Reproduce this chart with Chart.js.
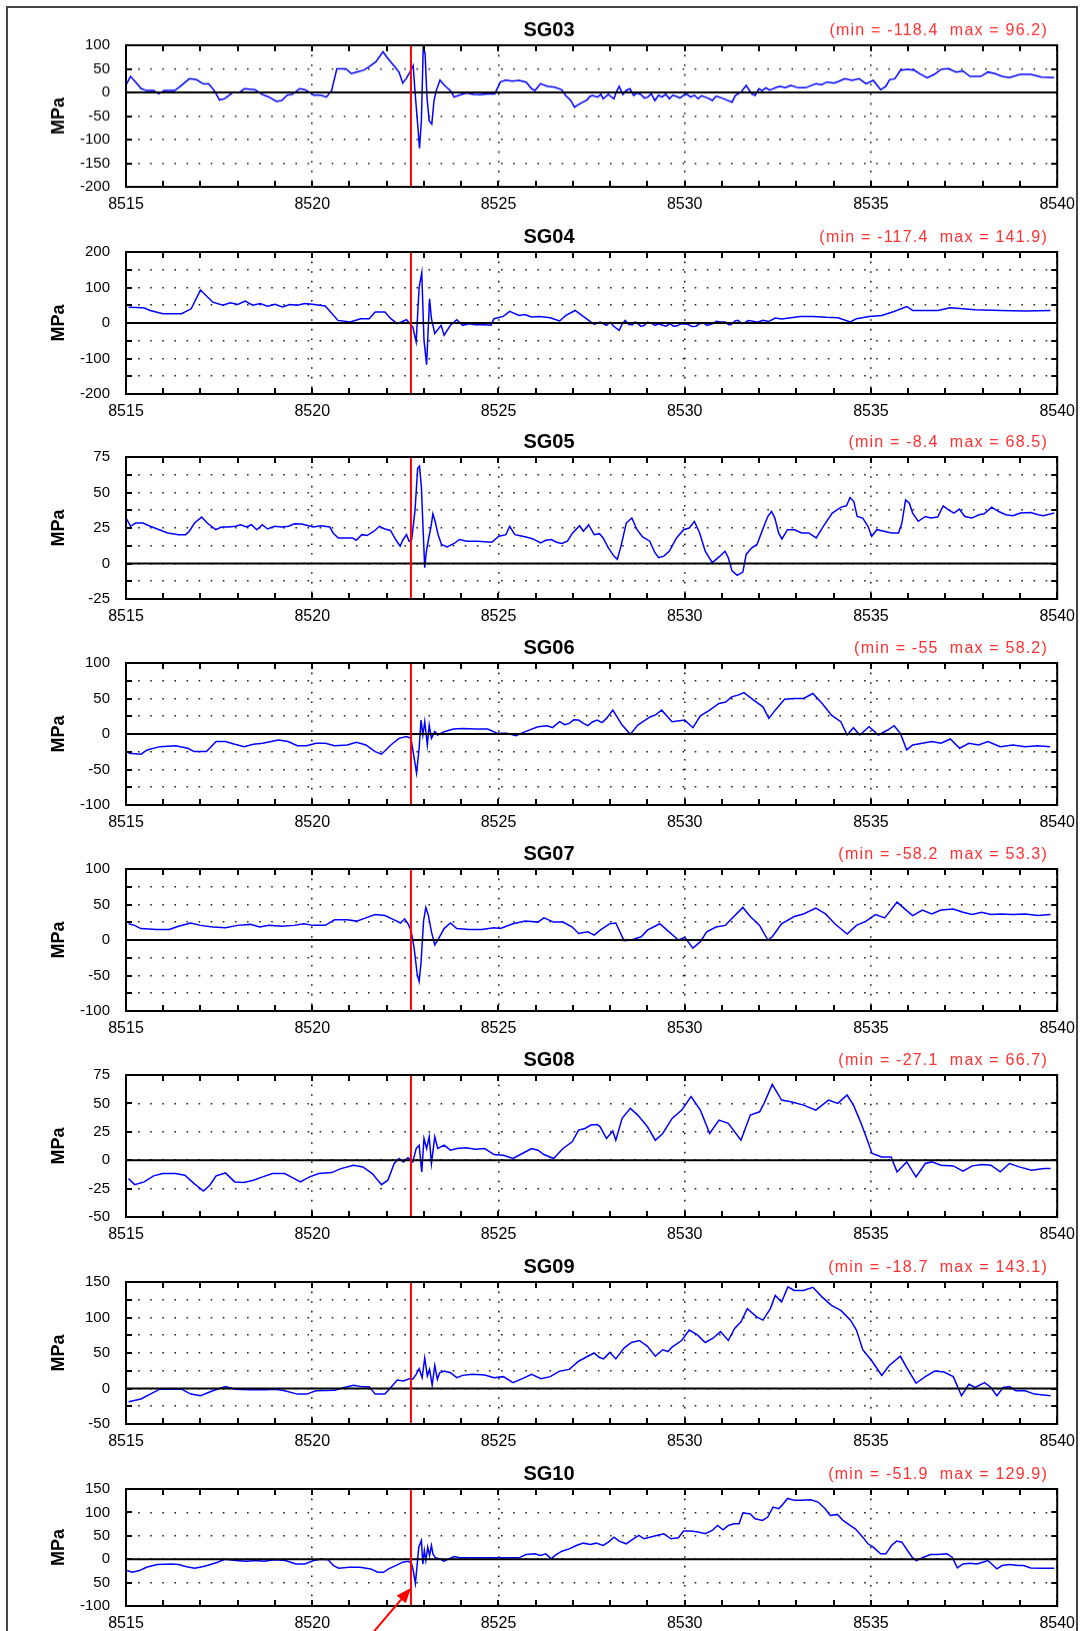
<!DOCTYPE html>
<html><head><meta charset="utf-8">
<script src="https://cdn.jsdelivr.net/npm/chart.js@4.4.1/dist/chart.umd.min.js"></script>
<style>
html,body{margin:0;padding:0;background:#fff;}
body{width:1083px;height:1631px;position:relative;overflow:hidden;}
#frame{position:absolute;left:6px;top:6px;width:1068px;height:1700px;border:2px solid #444;}
canvas{position:absolute;left:0;}
</style></head><body>
<div id="frame"></div>
<script>
// ---------------- DATA ----------------
const names = ['SG03','SG04','SG05','SG06','SG07','SG08','SG09','SG10'];
const minMaxText = [
  '(min = -118.4  max = 96.2)',
  '(min = -117.4  max = 141.9)',
  '(min = -8.4  max = 68.5)',
  '(min = -55  max = 58.2)',
  '(min = -58.2  max = 53.3)',
  '(min = -27.1  max = 66.7)',
  '(min = -18.7  max = 143.1)',
  '(min = -51.9  max = 129.9)'
];
const xMin = 8515, xMax = 8540, xStep = 5;
const xTickLabels = ['8515','8520','8525','8530','8535','8540'];
const eventTime = 8522.65;
const yMin = [-200,-200,-25,-100,-100,-50,-50,-100];
const yMax = [100,200,75,100,100,75,150,150];
const yGridStep = [50,50,12.5,25,25,25,25,50];
const yLabelStep = [50,100,25,50,50,25,50,50];
const yTickLabels = [
  ['100','50','0','-50','-100','-150','-200'],
  ['200','100','0','-100','-200'],
  ['75','50','25','0','-25'],
  ['100','50','0','-50','-100'],
  ['100','50','0','-50','-100'],
  ['75','50','25','0','-25','-50'],
  ['150','100','50','0','-50'],
  ['150','100','50','0','50','-100']
];

const SG03 = [[8515.02,18],[8515.12,34],[8515.26,22],[8515.41,8],[8515.55,4],[8515.74,4],[8515.88,-3],[8516.03,4],[8516.31,4],[8516.46,13],[8516.70,29],[8516.89,27],[8517.08,18],[8517.22,18],[8517.37,4],[8517.51,-16],[8517.65,-13],[8517.89,1],[8518.03,-1],[8518.18,8],[8518.46,6],[8518.65,-4],[8518.84,-10],[8519.04,-19],[8519.18,-17],[8519.33,-6],[8519.47,-4],[8519.66,8],[8519.80,6],[8519.95,-1],[8520.04,-6],[8520.23,-6],[8520.38,-10],[8520.52,4],[8520.66,50],[8520.90,50],[8521.05,40],[8521.19,43],[8521.38,47],[8521.52,54],[8521.71,65],[8521.90,86],[8522.0,75],[8522.19,57],[8522.33,43],[8522.43,20],[8522.52,29],[8522.62,43],[8522.71,57],[8522.76,1],[8522.83,-67],[8522.88,-118.4],[8522.93,-60],[8522.98,96.2],[8523.03,82],[8523.08,-10],[8523.14,-60],[8523.21,-67],[8523.27,-17],[8523.33,4],[8523.43,26],[8523.55,15],[8523.71,4],[8523.81,-10],[8523.95,-6],[8524.14,-1],[8524.33,-4],[8524.52,-5],[8524.71,-3],[8524.90,-3],[8525.05,22],[8525.19,26],[8525.38,24],[8525.55,25.5],[8525.74,22],[8525.89,7.8],[8525.98,4.3],[8526.13,18.4],[8526.32,12.8],[8526.51,11.3],[8526.70,5.7],[8526.80,-6.4],[8526.94,-17],[8527.04,-31.2],[8527.18,-24],[8527.38,-15.6],[8527.45,-9],[8527.52,-6.4],[8527.66,-9.9],[8527.75,-4],[8527.81,-13.5],[8527.95,-4.3],[8528.02,-9],[8528.10,-13.5],[8528.17,2],[8528.24,12.8],[8528.34,-4.3],[8528.43,4.3],[8528.53,7.8],[8528.63,-6.4],[8528.72,-1],[8528.82,-4.3],[8528.92,-12],[8529.01,-9.9],[8529.10,-3],[8529.20,-17],[8529.30,-6],[8529.39,-9.9],[8529.49,-4],[8529.59,-13.5],[8529.68,-6],[8529.78,-8.5],[8529.87,-12],[8529.97,-6.4],[8530.06,-4],[8530.16,-9.9],[8530.26,-6],[8530.36,-13.5],[8530.45,-7],[8530.55,-9.9],[8530.65,-13],[8530.74,-17],[8530.84,-8],[8530.93,-9.9],[8531.03,-13],[8531.12,-15.6],[8531.27,-20.6],[8531.36,-6.4],[8531.51,0.7],[8531.65,14.9],[8531.80,-2.8],[8531.89,-6.4],[8531.99,7.8],[8532.08,4],[8532.18,9.9],[8532.28,5],[8532.37,7.8],[8532.47,11],[8532.57,12.8],[8532.70,10],[8532.85,14.9],[8533.05,9.9],[8533.24,9.9],[8533.38,14],[8533.53,18.4],[8533.67,16],[8533.82,22],[8534.01,19.9],[8534.15,24],[8534.30,29],[8534.49,25.5],[8534.68,29],[8534.87,18.4],[8535.06,25.5],[8535.26,5.7],[8535.40,12.8],[8535.50,27],[8535.64,29],[8535.79,46.8],[8535.98,49],[8536.17,46.8],[8536.31,39.7],[8536.51,31.2],[8536.70,38.3],[8536.89,49],[8537.08,50.4],[8537.28,43.3],[8537.47,45.4],[8537.66,34],[8537.95,34],[8538.14,43.3],[8538.33,39.7],[8538.52,34],[8538.72,31.2],[8539.0,38.3],[8539.29,38.3],[8539.58,32.6],[8539.92,31.2]];

const SG04 = [[8515.07,44.7],[8515.3,44],[8515.49,42],[8515.65,35.3],[8515.99,26],[8516.49,26],[8516.75,40],[8517.0,93],[8517.33,58.6],[8517.6,50],[8517.8,57],[8518.0,52],[8518.2,62],[8518.4,50],[8518.6,55],[8518.8,47],[8519.0,53],[8519.2,45],[8519.4,52],[8519.6,50],[8519.8,55],[8520.0,53],[8520.2,50],[8520.35,48],[8520.69,7.4],[8521.02,2.8],[8521.3,12],[8521.53,12.1],[8521.69,30.7],[8521.95,30.7],[8522.11,12.1],[8522.28,-1.9],[8522.53,9.3],[8522.70,-11.2],[8522.79,-53],[8522.87,100.5],[8522.94,141.9],[8523.0,-48.4],[8523.07,-117.4],[8523.15,67.9],[8523.2,12.1],[8523.29,-29.8],[8523.46,-6.5],[8523.54,-34.4],[8523.71,-6.5],[8523.88,9.3],[8524.04,-6.5],[8524.2,-1.9],[8524.38,-4.7],[8524.6,-4.7],[8524.8,-6.5],[8524.88,12.1],[8525.13,18.6],[8525.3,32.6],[8525.55,21.4],[8525.7,24],[8525.89,16.7],[8526.1,18],[8526.39,14.9],[8526.64,5.6],[8526.81,21.4],[8527.06,35.3],[8527.32,14.9],[8527.57,-3.7],[8527.73,2.8],[8527.9,-6.5],[8528.0,2],[8528.1,-10],[8528.24,-20.5],[8528.32,-3],[8528.4,7.4],[8528.5,-4],[8528.6,-5],[8528.67,3],[8528.74,-1.9],[8528.82,-9],[8528.9,-8],[8529.0,2],[8529.1,0],[8529.2,-7],[8529.3,-2],[8529.41,-6.5],[8529.5,-9],[8529.6,-2],[8529.7,-9],[8529.8,-8],[8529.9,-2],[8530.08,-3.7],[8530.2,-10],[8530.3,-9],[8530.4,-2],[8530.5,0],[8530.6,-7],[8530.76,-1.9],[8530.85,5],[8530.95,3],[8531.09,2.8],[8531.18,-5],[8531.25,-4],[8531.35,6],[8531.43,7.4],[8531.52,-1],[8531.6,0],[8531.7,7],[8531.8,6],[8531.95,2],[8532.1,7.4],[8532.25,4],[8532.43,14],[8532.6,11],[8532.8,14],[8533.1,18],[8533.44,18.6],[8533.8,16],[8534.11,14.9],[8534.45,2.8],[8534.61,12.1],[8534.95,18.6],[8535.29,21.4],[8535.62,32.6],[8535.96,46.5],[8536.12,35.3],[8536.8,35.3],[8537.13,42.8],[8537.8,37.2],[8538.47,35.3],[8539.14,33.5],[8539.82,35.3]];

const SG05 = [[8515.02,31.3],[8515.12,26.2],[8515.26,28.5],[8515.45,28.5],[8515.65,26.2],[8515.84,24.3],[8516.12,21.5],[8516.41,20.3],[8516.60,20.3],[8516.70,22.7],[8516.84,28.5],[8517.03,32.7],[8517.18,28.5],[8517.41,23.8],[8517.56,25.7],[8517.75,25.7],[8517.94,26.2],[8518.08,27.3],[8518.23,25.7],[8518.37,27.3],[8518.51,23.8],[8518.66,27.3],[8518.80,24.3],[8518.99,26.2],[8519.18,25.7],[8519.37,26.2],[8519.52,28],[8519.71,27.8],[8519.90,26.6],[8520.04,25.7],[8520.23,26.6],[8520.47,25.7],[8520.56,21.5],[8520.70,18],[8520.89,18],[8521.08,18],[8521.18,16.4],[8521.33,20.3],[8521.47,19.7],[8521.66,22.7],[8521.80,26.2],[8521.95,24.3],[8522.10,23.3],[8522.24,16.9],[8522.36,12.2],[8522.43,16.4],[8522.53,20.3],[8522.60,15.7],[8522.67,16.9],[8522.76,37.8],[8522.83,66.9],[8522.88,68.5],[8522.93,54],[8522.98,21.5],[8523.02,-2.9],[8523.06,7.6],[8523.12,16.9],[8523.19,26.2],[8523.24,35],[8523.30,29.7],[8523.38,20.3],[8523.47,13.4],[8523.62,11.7],[8523.81,14.1],[8523.95,16.9],[8524.15,15.7],[8524.44,15.7],[8524.82,15],[8525.01,19.2],[8525.20,20.3],[8525.30,26.2],[8525.44,20.3],[8525.55,19.7],[8525.74,18.7],[8525.93,17.3],[8526.13,14.5],[8526.27,16.4],[8526.42,16.9],[8526.56,15],[8526.70,14.1],[8526.85,15.7],[8526.99,21.5],[8527.18,26.6],[8527.28,22.7],[8527.42,27.3],[8527.57,20.3],[8527.71,21],[8527.81,18],[8527.95,11],[8528.10,5.2],[8528.19,2.9],[8528.29,12.2],[8528.43,28.5],[8528.58,32],[8528.72,23.8],[8528.87,18.7],[8529.06,15.7],[8529.20,7.6],[8529.30,4.1],[8529.44,5.2],[8529.59,8.7],[8529.78,18],[8529.97,23.8],[8530.12,25],[8530.26,29.7],[8530.40,21.5],[8530.55,8.7],[8530.74,0.6],[8530.93,4.8],[8531.08,8.7],[8531.17,4.1],[8531.27,-5.2],[8531.41,-8.4],[8531.56,-6],[8531.65,6.4],[8531.80,11],[8531.94,13.4],[8532.09,23.8],[8532.23,33.1],[8532.33,36.6],[8532.42,32],[8532.52,21.5],[8532.61,17.3],[8532.76,23.8],[8532.95,23.8],[8533.14,21.5],[8533.33,21.5],[8533.53,18],[8533.72,26.2],[8533.96,35.5],[8534.20,39.7],[8534.34,40.6],[8534.44,46.4],[8534.54,43.6],[8534.63,33.1],[8534.78,32],[8534.92,26.2],[8535.02,19.2],[8535.16,23.8],[8535.35,22.7],[8535.55,21.5],[8535.74,21.5],[8535.83,28.5],[8535.93,44.8],[8536.03,42.4],[8536.12,35.5],[8536.27,29.7],[8536.46,33.1],[8536.60,32],[8536.79,32.7],[8536.94,40.6],[8537.08,37.8],[8537.23,35.5],[8537.37,38.3],[8537.52,33.1],[8537.71,32],[8537.90,34.3],[8538.04,35],[8538.24,39.7],[8538.43,36.6],[8538.62,34.3],[8538.81,33.6],[8539.01,35.5],[8539.29,35.9],[8539.49,34.3],[8539.63,33.6],[8539.92,35.5]];

const SG06 = [[8515.07,-27.1],[8515.40,-28.5],[8515.57,-22.4],[8515.91,-17.8],[8516.33,-16.4],[8516.66,-20.1],[8516.83,-24.8],[8517.16,-24.8],[8517.42,-10.7],[8517.67,-10.7],[8517.92,-14.5],[8518.17,-17.8],[8518.42,-14.5],[8518.67,-13.1],[8519.09,-8.4],[8519.35,-10.7],[8519.60,-16.4],[8519.85,-16.4],[8520.10,-13.1],[8520.35,-13.1],[8520.60,-16.4],[8520.94,-15.4],[8521.19,-11.7],[8521.44,-15.4],[8521.69,-24.8],[8521.86,-28.5],[8522.11,-15.4],[8522.33,-6.1],[8522.53,-3.7],[8522.65,-6.1],[8522.73,-31.8],[8522.80,-55],[8522.87,-20.1],[8522.92,19.6],[8522.97,-1.4],[8523.02,17.3],[8523.09,-15.4],[8523.14,12.6],[8523.20,-6.1],[8523.29,3.3],[8523.37,-1.4],[8523.54,3.3],[8523.79,7],[8524.04,7.9],[8524.38,7],[8524.71,7],[8524.97,0.9],[8525.22,0.9],[8525.47,-2.3],[8525.72,3.3],[8526.06,10.3],[8526.31,11.7],[8526.45,9],[8526.64,17.3],[8526.78,13],[8526.90,15],[8527.02,20],[8527.15,19.6],[8527.28,15],[8527.40,11.7],[8527.52,17],[8527.65,19.6],[8527.78,16],[8527.90,22],[8528.07,33.6],[8528.32,12.6],[8528.54,-0.5],[8528.74,12.6],[8529.08,24.3],[8529.22,27],[8529.38,33.6],[8529.66,17.3],[8530.0,19.6],[8530.22,8.9],[8530.42,25.7],[8530.67,33.6],[8530.92,43],[8531.10,45],[8531.26,52.3],[8531.43,54.7],[8531.59,58.2],[8531.85,47.7],[8532.10,38.3],[8532.26,22],[8532.43,33.6],[8532.68,49],[8532.94,50],[8533.19,50],[8533.44,57],[8533.69,43],[8533.94,26.6],[8534.19,17.3],[8534.36,-1.4],[8534.53,8.9],[8534.70,-1.4],[8534.95,10.3],[8535.20,-1.4],[8535.45,5.6],[8535.62,11.7],[8535.79,0.9],[8535.96,-22.4],[8536.12,-15.4],[8536.38,-13.1],[8536.63,-10.7],[8536.88,-13.1],[8537.13,-7],[8537.38,-20.1],[8537.63,-13.1],[8537.89,-15.4],[8538.14,-10.7],[8538.47,-17.8],[8538.81,-15.4],[8539.14,-17.8],[8539.48,-16.4],[8539.81,-17.8]];

const SG07 = [[8515.07,22.9],[8515.23,20.6],[8515.40,16.1],[8515.82,14.7],[8516.16,14.7],[8516.41,19.3],[8516.74,23.9],[8517.0,20.6],[8517.33,18.3],[8517.67,17.4],[8518.0,20.6],[8518.34,22],[8518.59,18.3],[8518.84,20.6],[8519.18,19.3],[8519.51,20.6],[8519.77,22.9],[8520.02,20.6],[8520.35,20.6],[8520.60,28.4],[8520.94,28.4],[8521.19,26.6],[8521.44,31.2],[8521.69,35.8],[8521.95,34.4],[8522.20,28.4],[8522.37,23.9],[8522.48,29.8],[8522.57,22.9],[8522.65,13.8],[8522.73,-9.2],[8522.82,-48.6],[8522.87,-58.2],[8522.92,-32.1],[8522.99,27.5],[8523.05,45.9],[8523.12,34.4],[8523.20,11.5],[8523.29,-6.9],[8523.37,0],[8523.54,16.1],[8523.71,23.9],[8523.88,16.1],[8524.21,14.7],[8524.55,14.7],[8524.88,17.4],[8525.05,16.1],[8525.39,22.9],[8525.72,26.6],[8526.06,25.2],[8526.22,31.2],[8526.48,25.2],[8526.73,25.2],[8526.98,18.3],[8527.15,9.2],[8527.40,11.5],[8527.57,6.9],[8527.73,13.8],[8527.99,22.9],[8528.15,23.9],[8528.37,-0.9],[8528.57,0],[8528.83,4.6],[8529.0,13.8],[8529.33,22.9],[8529.58,11.5],[8529.83,0],[8530.0,3.7],[8530.22,-11.5],[8530.42,-2.3],[8530.59,11.5],[8530.84,18.3],[8531.09,20.6],[8531.26,29.8],[8531.56,45.9],[8531.76,33],[8532.01,20.6],[8532.23,0],[8532.35,4.6],[8532.60,22.9],[8532.94,33],[8533.19,36.7],[8533.52,45],[8533.78,36.7],[8534.03,22.9],[8534.36,8.3],[8534.61,20.6],[8534.87,26.6],[8535.12,35.8],[8535.37,31.2],[8535.70,53.3],[8535.96,41.3],[8536.12,34.4],[8536.38,42.2],[8536.63,36.7],[8536.88,42.2],[8537.21,43.6],[8537.47,39],[8537.72,35.8],[8537.97,39],[8538.22,35.8],[8538.47,36.7],[8538.81,35.8],[8539.14,36.7],[8539.48,34.4],[8539.82,35.8]];

const SG08 = [[8515.07,-16.2],[8515.23,-21.5],[8515.49,-19.1],[8515.74,-13.8],[8515.99,-11.8],[8516.33,-11.8],[8516.58,-13.2],[8516.83,-20.6],[8517.08,-27.1],[8517.25,-22],[8517.42,-13.8],[8517.67,-11.2],[8517.92,-19.1],[8518.17,-19.7],[8518.42,-17.6],[8518.67,-14.7],[8518.93,-11.8],[8519.26,-11.8],[8519.43,-14.7],[8519.68,-19.1],[8519.93,-14.7],[8520.18,-11.8],[8520.52,-10.9],[8520.77,-7.4],[8521.11,-4.4],[8521.36,-5.9],[8521.61,-11.8],[8521.86,-21.5],[8522.03,-17.6],[8522.20,-2.9],[8522.33,1.5],[8522.45,-1.5],[8522.57,2.1],[8522.70,-1.5],[8522.79,10.3],[8522.87,13.2],[8522.94,-10.3],[8523.0,19.1],[8523.07,10.3],[8523.14,20.6],[8523.20,-2.9],[8523.29,20.6],[8523.37,10.3],[8523.54,13.2],[8523.71,8.8],[8523.88,10.3],[8524.13,10.9],[8524.38,9.7],[8524.63,10.3],[8524.88,5],[8525.13,4.4],[8525.39,1.5],[8525.64,5.9],[8525.89,10.3],[8526.06,8.8],[8526.22,5],[8526.48,1.5],[8526.73,10.3],[8526.98,16.2],[8527.15,26.5],[8527.32,27.9],[8527.48,30.9],[8527.65,31.5],[8527.73,29.4],[8527.90,19.1],[8528.07,25.6],[8528.15,17.6],[8528.32,36.8],[8528.54,45.6],[8528.74,39.7],[8529.0,29.4],[8529.21,17.6],[8529.41,23.5],[8529.66,36.8],[8529.92,44.1],[8530.17,56],[8530.42,44.1],[8530.67,23.5],[8530.92,35.3],[8531.17,32.4],[8531.51,17.6],[8531.76,39.7],[8532.01,42.6],[8532.13,50],[8532.35,66.7],[8532.60,52.9],[8532.85,51.5],[8533.19,48.5],[8533.52,44.1],[8533.86,52.9],[8534.11,50],[8534.36,57.4],[8534.53,48.5],[8534.70,35.3],[8534.87,20.6],[8535.03,5.9],[8535.29,2.9],[8535.54,2.9],[8535.70,-10.3],[8535.96,-1.5],[8536.21,-14.7],[8536.46,-2.9],[8536.63,-1.5],[8536.88,-4.4],[8537.21,-5],[8537.47,-9.7],[8537.72,-5],[8537.97,-3.8],[8538.22,-4.4],[8538.47,-10.3],[8538.72,-2.9],[8538.98,-5.9],[8539.31,-8.8],[8539.65,-7.4],[8539.82,-7.4]];

const SG09 = [[8515.07,-18.7],[8515.40,-14.8],[8515.65,-7.9],[8515.91,-0.9],[8516.16,-0.9],[8516.49,-0.9],[8516.74,-7.9],[8517.0,-10.2],[8517.33,-3.2],[8517.67,2.8],[8517.92,-0.9],[8518.34,-1.9],[8518.76,-1.9],[8519.01,-0.9],[8519.26,-3.2],[8519.60,-7.9],[8519.85,-7.9],[8520.10,-3.2],[8520.60,-2.3],[8520.86,1.4],[8521.11,4.6],[8521.36,2.3],[8521.53,2.3],[8521.69,-7.9],[8521.95,-7.9],[8522.11,1.4],[8522.28,12],[8522.45,10.6],[8522.62,13.9],[8522.70,13],[8522.79,19.9],[8522.87,27.8],[8522.95,15.3],[8523.02,43],[8523.09,17.6],[8523.15,26.9],[8523.22,4.6],[8523.29,32.4],[8523.36,13],[8523.42,22.2],[8523.54,24.5],[8523.71,22.2],[8523.88,15.3],[8524.04,18.5],[8524.30,19.9],[8524.63,19],[8524.88,15.3],[8525.13,16.7],[8525.39,8.3],[8525.64,13.9],[8525.89,19.9],[8526.14,13.9],[8526.39,16.7],[8526.64,24.5],[8526.90,26.9],[8527.15,38.4],[8527.40,45.4],[8527.57,50],[8527.70,44],[8527.82,41.7],[8527.99,50.9],[8528.15,41.7],[8528.37,56.9],[8528.57,64.8],[8528.78,67.6],[8529.0,59.3],[8529.21,45.4],[8529.41,54.6],[8529.55,52],[8529.66,58.3],[8529.92,67.6],[8530.12,82.4],[8530.34,75.5],[8530.55,64.8],[8530.76,70.8],[8530.96,80.1],[8531.17,67.6],[8531.34,84.7],[8531.51,94],[8531.68,112.5],[8531.93,100.9],[8532.10,96.3],[8532.30,112.5],[8532.43,131],[8532.60,121.8],[8532.77,143.1],[8532.94,138],[8533.19,138],[8533.44,142.6],[8533.69,128.7],[8533.94,117],[8534.19,110],[8534.45,96.3],[8534.61,82.4],[8534.78,54.6],[8535.03,38.4],[8535.29,18.5],[8535.49,32.4],[8535.79,45.4],[8535.96,29.3],[8536.21,7.4],[8536.46,16.7],[8536.71,24.5],[8536.96,23.1],[8537.21,16.7],[8537.43,-10.2],[8537.63,6],[8537.80,1.4],[8538.05,8.3],[8538.22,1.4],[8538.38,-10.2],[8538.55,1.4],[8538.72,2.8],[8538.89,-3.2],[8539.14,-3.2],[8539.39,-7.9],[8539.82,-10.2]];

const SG10 = [[8515.02,-24.3],[8515.17,-27.9],[8515.36,-24.3],[8515.55,-17.1],[8515.84,-11.4],[8516.22,-10],[8516.41,-11.4],[8516.60,-15.7],[8516.84,-19.3],[8517.08,-15.7],[8517.27,-11.4],[8517.46,-6.4],[8517.65,0],[8517.94,-2.9],[8518.23,-4.3],[8518.51,-2.9],[8518.70,-4.3],[8518.99,-1.4],[8519.28,-2.9],[8519.56,-10],[8519.80,-10],[8520.04,-2.9],[8520.23,0],[8520.43,-1.4],[8520.57,-13.6],[8520.71,-19.3],[8521.0,-17.1],[8521.29,-17.1],[8521.57,-20.7],[8521.76,-27.9],[8521.91,-27.9],[8522.05,-20.7],[8522.24,-13.6],[8522.43,-6.4],[8522.58,-4.3],[8522.67,-10],[8522.72,-27.9],[8522.77,-51.9],[8522.81,-17.1],[8522.86,25.7],[8522.93,40],[8522.97,-10],[8523.01,18.6],[8523.05,-2.9],[8523.10,25.7],[8523.15,7.9],[8523.20,29.3],[8523.24,11.4],[8523.31,2.9],[8523.43,0.7],[8523.53,-4.3],[8523.67,0.7],[8523.81,5.7],[8523.96,2.9],[8524.25,2.9],[8524.53,2.9],[8524.82,2.9],[8525.11,2.9],[8525.40,2.9],[8525.55,2.9],[8525.74,10],[8525.98,11.4],[8526.13,7.9],[8526.27,11.4],[8526.42,0.7],[8526.51,7.9],[8526.70,17.1],[8526.90,22.1],[8527.09,29.3],[8527.28,34.3],[8527.47,31.4],[8527.62,34.3],[8527.81,29.3],[8527.95,36.4],[8528.10,47.1],[8528.24,38.6],[8528.43,32.9],[8528.58,41.4],[8528.77,50.7],[8528.91,43.6],[8529.06,47.1],[8529.25,50.7],[8529.44,54.3],[8529.63,43.6],[8529.83,45.7],[8529.97,60],[8530.16,60],[8530.36,57.9],[8530.55,54.3],[8530.74,61.4],[8530.88,72.1],[8531.03,62.9],[8531.17,72.1],[8531.32,75.7],[8531.46,75.7],[8531.56,98.6],[8531.75,97.1],[8531.89,86.4],[8532.09,82.9],[8532.23,90],[8532.37,111.4],[8532.52,107.9],[8532.61,115],[8532.76,129.9],[8532.95,125.7],[8533.14,125.7],[8533.38,127.1],[8533.58,122.1],[8533.77,107.9],[8533.91,93.6],[8534.10,95.7],[8534.25,82.9],[8534.44,72.1],[8534.58,65],[8534.78,47.1],[8534.92,32.9],[8535.06,25.7],[8535.26,11.4],[8535.40,11.4],[8535.55,29.3],[8535.69,38.6],[8535.83,36.4],[8535.98,18.6],[8536.12,2.9],[8536.22,-2.9],[8536.41,4.3],[8536.60,10],[8536.79,10],[8537.04,11.4],[8537.18,4.3],[8537.32,-18.6],[8537.47,-10],[8537.66,-8.6],[8537.85,-10],[8538.0,-6.4],[8538.14,-2.9],[8538.38,-20.7],[8538.52,-13.6],[8538.72,-11.4],[8538.96,-13.6],[8539.10,-13.6],[8539.29,-18.6],[8539.58,-19.3],[8539.92,-19.3]];

const seriesList = [SG03, SG04, SG05, SG06, SG07, SG08, SG09, SG10];
const arrowTipValue = -61.5; // annotation arrow points at the event line in SG10

// ---------------- LAYOUT (page pixels) ----------------
const FONT = '"Liberation Sans", Arial, Helvetica, sans-serif';
const PAGE_W = 1083, PAGE_H = 1631;
const boxTops = [45, 251.5, 457, 663, 868.5, 1075, 1282, 1489];
const boxHeights = [141.5, 142, 142, 142, 142.5, 142, 142, 117];
const PLOT_LEFT = 126, PLOT_RIGHT = 1059;
const TOP_SPACE = 42, BOTTOM_SPACE = 36;
const TITLE_X = 549, MINMAX_RIGHT = 1048, TITLE_DY = 14.5;

Chart.defaults.font.family = FONT;
Chart.defaults.color = '#000';

const decoPlugin = {
  id: 'deco',
  afterDatasetsDraw(chart, args, opts) {
    const ctx = chart.ctx, a = chart.chartArea;
    const xs = chart.scales.x, ys = chart.scales.y;
    ctx.save();
    ctx.strokeStyle = '#000';
    ctx.lineWidth = 2;
    ys.ticks.forEach(t => {
      const py = Math.round(ys.getPixelForValue(t.value));
      ctx.beginPath();
      ctx.moveTo(a.left, py); ctx.lineTo(a.left + 6, py);
      ctx.moveTo(a.right - 6, py); ctx.lineTo(a.right, py);
      ctx.stroke();
    });
    for (let v = xs.min; v <= xs.max; v += 1) {
      const px = Math.round(xs.getPixelForValue(v));
      ctx.beginPath();
      ctx.moveTo(px, a.top); ctx.lineTo(px, a.top + 6);
      ctx.moveTo(px, a.bottom - 6); ctx.lineTo(px, a.bottom);
      ctx.stroke();
    }
    ctx.strokeRect(a.left, a.top, a.right - a.left, a.bottom - a.top);
    ctx.fillStyle = '#000';
    ctx.font = 'bold 20px ' + FONT;
    ctx.textAlign = 'center';
    ctx.textBaseline = 'middle';
    ctx.fillText(opts.name, TITLE_X, a.top - TITLE_DY);
    ctx.fillStyle = '#ff3030';
    ctx.font = '16px ' + FONT;
    ctx.textAlign = 'right';
    if ('letterSpacing' in ctx) ctx.letterSpacing = '1.2px';
    ctx.fillText(opts.minMax, MINMAX_RIGHT, a.top - TITLE_DY);
    if ('letterSpacing' in ctx) ctx.letterSpacing = '0px';
    if (opts.arrow) {
      const tx = xs.getPixelForValue(eventTime);
      const ty = ys.getPixelForValue(arrowTipValue);
      const sx = tx - 40, sy = chart.height + 4;
      const ang = Math.atan2(ty - sy, tx - sx);
      ctx.strokeStyle = '#ff0000';
      ctx.fillStyle = '#ff0000';
      ctx.lineWidth = 2;
      ctx.beginPath();
      ctx.moveTo(sx, sy);
      ctx.lineTo(tx - 10 * Math.cos(ang), ty - 10 * Math.sin(ang));
      ctx.stroke();
      ctx.beginPath();
      ctx.moveTo(tx, ty);
      ctx.lineTo(tx - 15 * Math.cos(ang) + 6 * Math.sin(ang), ty - 15 * Math.sin(ang) - 6 * Math.cos(ang));
      ctx.lineTo(tx - 15 * Math.cos(ang) - 6 * Math.sin(ang), ty - 15 * Math.sin(ang) + 6 * Math.cos(ang));
      ctx.closePath();
      ctx.fill();
    }
    ctx.restore();
  }
};

names.forEach((name, i) => {
  const last = i === names.length - 1;
  const canvas = document.createElement('canvas');
  const top = boxTops[i] - TOP_SPACE;
  const h = last ? PAGE_H - top : TOP_SPACE + boxHeights[i] + BOTTOM_SPACE;
  const bottomSpace = h - TOP_SPACE - boxHeights[i];
  canvas.width = PAGE_W; canvas.height = h;
  canvas.style.width = PAGE_W + 'px'; canvas.style.height = h + 'px';
  canvas.style.top = top + 'px';
  document.body.appendChild(canvas);

  new Chart(canvas.getContext('2d'), {
    type: 'line',
    data: {
      datasets: [
        { data: [{x: eventTime, y: yMin[i]}, {x: eventTime, y: yMax[i]}], borderColor: '#ff0000', borderWidth: 2, pointRadius: 0 },
        { data: [{x: xMin, y: 0}, {x: xMax, y: 0}], borderColor: '#000', borderWidth: 2, pointRadius: 0 },
        { data: seriesList[i].map(p => ({x: p[0], y: p[1]})), borderColor: '#0000ff', borderWidth: 1.5, pointRadius: 0, tension: 0 }
      ]
    },
    options: {
      responsive: false, animation: false, devicePixelRatio: 1,
      events: [],
      layout: { padding: { top: TOP_SPACE, right: PAGE_W - PLOT_RIGHT, left: 0, bottom: 0 } },
      plugins: { legend: { display: false }, tooltip: { enabled: false }, title: { display: false },
        deco: { name: name, minMax: minMaxText[i], arrow: last } },
      scales: {
        x: {
          type: 'linear', min: xMin, max: xMax, position: 'bottom',
          ticks: { stepSize: xStep, autoSkip: false, maxRotation: 0, padding: 8,
            font: { size: 16 }, color: '#000',
            callback: v => xTickLabels[Math.round((v - xMin) / xStep)] ?? '' },
          grid: { color: '#222', lineWidth: 1.6, drawTicks: false },
          border: { display: false, dash: [1.6, 8] },
          afterFit: s => { s.height = bottomSpace; }
        },
        y: {
          type: 'linear', min: yMin[i], max: yMax[i],
          ticks: { stepSize: yGridStep[i], autoSkip: false, padding: 16,
            font: { size: 15 }, color: '#000',
            callback: v => {
              const k = Math.round((yMax[i] - v) / yLabelStep[i]);
              if (Math.abs(yMax[i] - k * yLabelStep[i] - v) > 1e-6) return '';
              return yTickLabels[i][k] ?? '';
            } },
          grid: { color: '#222', lineWidth: 1.6, drawTicks: false },
          border: { display: false, dash: [1.6, 10.5] },
          title: { display: true, text: 'MPa', font: { size: 18, weight: 'bold' }, color: '#000', padding: { top: 48, bottom: 0 } },
          afterFit: s => { s.width = PLOT_LEFT; }
        }
      }
    },
    plugins: [decoPlugin]
  });
});
</script>
</body></html>
